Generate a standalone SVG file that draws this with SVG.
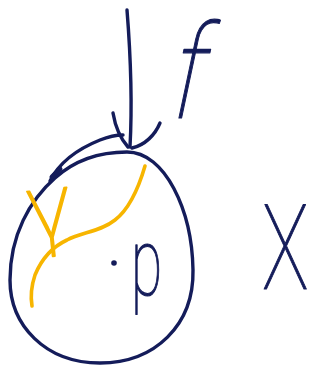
<svg xmlns="http://www.w3.org/2000/svg" width="321" height="366" viewBox="0 0 321 366">
<style>
.ink{fill:none;stroke:#141c5a;stroke-width:3.4;stroke-linecap:round;stroke-linejoin:round}
.gold{fill:none;stroke:#f7b500;stroke-width:3.6;stroke-linecap:round;stroke-linejoin:round}
.lbl{fill:#141c5a;stroke:#141c5a;stroke-width:1.2;stroke-linejoin:round;font-family:Roboto,"Liberation Sans",sans-serif;font-weight:100}
</style>
<rect width="321" height="366" fill="#ffffff"/>
<g id="set-X">
<path class="ink" d="M127 152 C165 152 192 210 193 270 C194 325 155 363 100 363 C45 363 10 325 10 280 C10 235 30 200 55 178 C75 160 100 152 127 152 Z"/>
<path class="ink" d="M50 181 C58 165 75 150 100 140 C110 136 117 135 123 135"/>
<path class="ink" d="M52 177 L60 169" style="stroke-width:5"/>
</g>
<g id="curve-gamma">
<path class="gold" d="M145 166 C138 190 128 210 115 220 C100 232 82 232 67 240 C52 247 42 258 35 275 C30 290 31 300 32 306"/>
<text x="0" y="0" style="fill:#f7b500;stroke:#f7b500;stroke-width:1.6;stroke-linejoin:round;font-family:Roboto,'Liberation Sans',sans-serif;font-weight:100;font-size:92px" transform="translate(30 240) rotate(-6)">γ</text>
</g>
<g id="point-p">
<circle cx="114" cy="263" r="2.8" fill="#141c5a"/>
<text class="lbl" x="0" y="0" style="font-size:95px" transform="translate(131 295) scale(0.6 1)">p</text>
</g>
<g id="label-X">
<text class="lbl" x="0" y="0" style="font-size:118px" transform="translate(262 289) scale(0.66 1)">X</text>
</g>
<g id="connectors">
<path class="ink" d="M127 10 C131 60 132 110 130 147"/>
<path class="ink" d="M113 113 C115 125 120 138 128 147"/>
<path class="ink" d="M160 123 C155 135 145 145 132 148"/>
</g>
<g id="label-f">
<text class="lbl" x="0" y="0" style="font-size:130px" transform="translate(166 118) skewX(-12) scale(0.8 1)">f</text>
</g>
</svg>
